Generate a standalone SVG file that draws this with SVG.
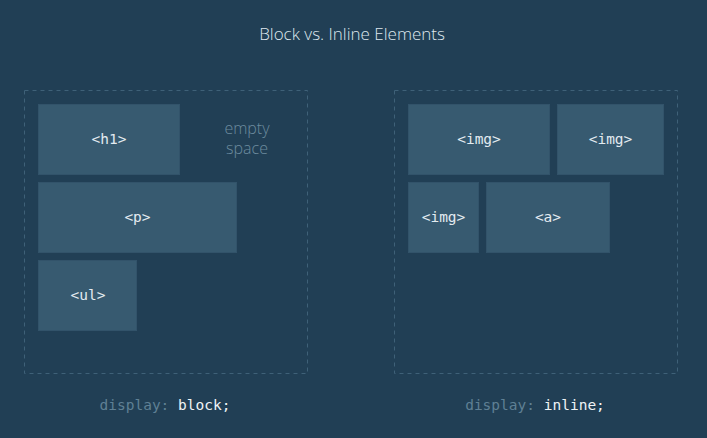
<svg xmlns="http://www.w3.org/2000/svg" width="707" height="438" viewBox="0 0 707 438">
  <style>
    .bg { fill: #213f55; }
    .frame { fill: none; stroke: #3f6178; stroke-width: 1; stroke-dasharray: 4 4; }
    .box { fill: #375a70; stroke: #32536a; stroke-width: 1; }
    .tag { font-family: "DejaVu Sans Mono", "Liberation Mono", monospace; font-size: 14.5px; fill: #e3ebf0; text-anchor: middle; }
    .title { font-family: "Open Sans", "Noto Sans", sans-serif; font-weight: 300; font-size: 17px; fill: #dfe8ee; text-anchor: middle; }
    .note { font-family: "Open Sans", "Noto Sans", sans-serif; font-weight: 300; font-size: 16px; fill: #6d8c9f; text-anchor: middle; }
    .code { font-family: "DejaVu Sans Mono", "Liberation Mono", monospace; font-size: 14.5px; text-anchor: middle; }
    .prop { fill: #5f8094; }
    .val { fill: #eef3f6; }
  </style>

  <rect class="bg" x="0" y="0" width="707" height="438"/>

  <text class="title" x="352" y="40">Block vs. Inline Elements</text>

  <!-- block container -->
  <g id="block-container">
    <rect class="frame" x="24.5" y="90.5" width="283" height="283"/>
    <text class="note" x="247" y="134">empty</text>
    <text class="note" x="247" y="154">space</text>
    <text class="code" x="165" y="410"><tspan class="prop">display:</tspan><tspan class="val"> block;</tspan></text>
  </g>

  <g id="h1">
    <rect class="box" x="38.5" y="104.5" width="141" height="70"/>
    <text class="tag" x="109" y="144">&lt;h1&gt;</text>
  </g>
  <g id="p">
    <rect class="box" x="38.5" y="182.5" width="198" height="70"/>
    <text class="tag" x="137.5" y="222">&lt;p&gt;</text>
  </g>
  <g id="ul">
    <rect class="box" x="38.5" y="260.5" width="98" height="70"/>
    <text class="tag" x="88" y="300">&lt;ul&gt;</text>
  </g>

  <!-- inline container -->
  <g id="inline-container">
    <rect class="frame" x="394.5" y="90.5" width="283" height="283"/>
    <text class="code" x="535" y="410"><tspan class="prop">display:</tspan><tspan class="val"> inline;</tspan></text>
  </g>

  <g id="img-1">
    <rect class="box" x="408.5" y="104.5" width="141" height="70"/>
    <text class="tag" x="479" y="144">&lt;img&gt;</text>
  </g>
  <g id="img-2">
    <rect class="box" x="557.5" y="104.5" width="106" height="70"/>
    <text class="tag" x="610.5" y="144">&lt;img&gt;</text>
  </g>
  <g id="img-3">
    <rect class="box" x="408.5" y="182.5" width="70" height="70"/>
    <text class="tag" x="443.5" y="222">&lt;img&gt;</text>
  </g>
  <g id="a">
    <rect class="box" x="486.5" y="182.5" width="123" height="70"/>
    <text class="tag" x="548" y="222">&lt;a&gt;</text>
  </g>

  <g id="connectors"></g>
</svg>
